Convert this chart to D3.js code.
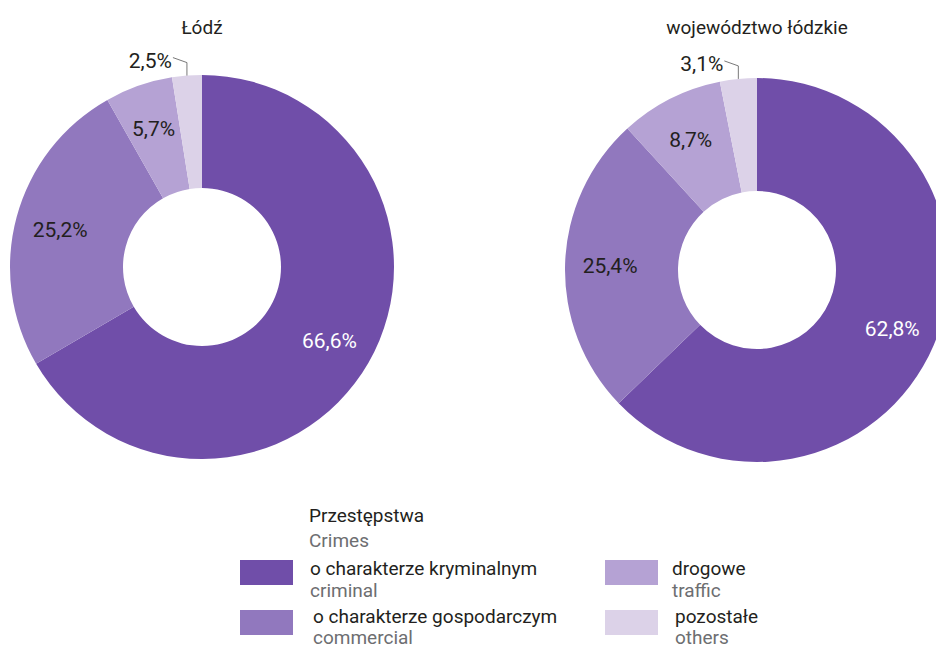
<!DOCTYPE html>
<html><head><meta charset="utf-8">
<script src="https://cdn.jsdelivr.net/npm/d3@7"></script>
<style>body{margin:0;background:#fff}svg{display:block}text{font-family:Roboto,"Noto Sans",sans-serif}</style>
</head><body>
<svg id="c" width="936" height="648"></svg>
<script>
const categoriesPL = ["o charakterze kryminalnym","o charakterze gospodarczym","drogowe","pozostałe"];
const categoriesEN = ["criminal","commercial","traffic","others"];
const colors = ["#704ea9","#9178be","#b5a2d4","#dcd2e8"];
const titles = ["Łódź","województwo łódzkie"];
const lodzValues = [66.6,25.2,5.7,2.5];
const wojValues = [62.8,25.4,8.7,3.1];
const labelColors = ["#ffffff","#231f20","#231f20","#231f20"];

const svg = d3.select("#c");
const fmt = v => v.toFixed(1).replace(".", ",") + "%";
const pie = d3.pie().sort(null).value(d=>d);
const donuts = [
  {title: titles[0], values: lodzValues, cx: 202, cy: 267},
  {title: titles[1], values: wojValues, cx: 757, cy: 270}
];
const R = 192, r0 = 79;
const arc = d3.arc().innerRadius(r0).outerRadius(R);
const labelArc = d3.arc().innerRadius(147).outerRadius(147);

donuts.forEach(dn => {
  const g = svg.append("g").attr("transform", `translate(${dn.cx},${dn.cy})`);
  svg.append("text").attr("x", dn.cx).attr("y", 34).attr("text-anchor","middle")
    .attr("font-size", 19).attr("fill","#231f20").text(dn.title);
  const arcs = pie(dn.values);
  g.selectAll("path").data(arcs).join("path").attr("d", arc).attr("fill", (d,i)=>colors[i]);
  arcs.forEach((a,i) => {
    if (i < 3) {
      const [x,y] = labelArc.centroid(a);
      g.append("text").attr("x", x).attr("y", y + 8).attr("text-anchor","middle")
        .attr("font-size", 21).attr("fill", labelColors[i]).text(fmt(dn.values[i]));
    } else {
      const mid = (a.startAngle + a.endAngle)/2;
      const px = R*Math.sin(mid), py = -R*Math.cos(mid);
      g.append("path").attr("d", `M${px},${py}L${px},${py-13}L${px-14},${py-18}`)
        .attr("fill","none").attr("stroke","#555").attr("stroke-width",0.8);
      g.append("text").attr("x", px - 15).attr("y", py - 8).attr("text-anchor","end")
        .attr("font-size", 21).attr("fill","#231f20").text(fmt(dn.values[i]));
    }
  });
});

// legend
const lg = svg.append("g");
lg.append("text").attr("x", 309).attr("y", 522).attr("font-size", 19).attr("fill","#231f20").text("Przestępstwa");
lg.append("text").attr("x", 309).attr("y", 547).attr("font-size", 19).attr("fill","#6d6e71").text("Crimes");
const pos = [[240,560,310],[240,610,313],[605,560,672],[605,610,675]];
categoriesPL.forEach((c,i) => {
  const [x,y,tx] = pos[i];
  lg.append("rect").attr("x", x).attr("y", y).attr("width", 53).attr("height", 25).attr("fill", colors[i]);
  lg.append("text").attr("x", tx).attr("y", y + (i%2 ? 13 : 15)).attr("font-size", 19).attr("fill","#231f20").text(c);
  lg.append("text").attr("x", tx).attr("y", y + (i%2 ? 34 : 37)).attr("font-size", 19).attr("fill","#6d6e71").text(categoriesEN[i]);
});
</script>
</body></html>
